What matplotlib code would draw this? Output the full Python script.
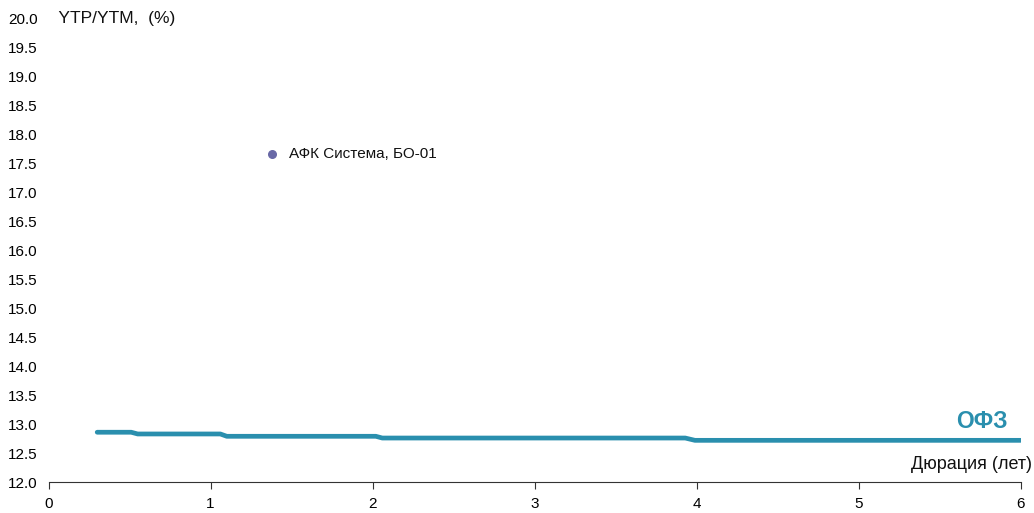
import matplotlib
matplotlib.use("Agg")
import matplotlib.pyplot as plt

plt.rcParams['font.family'] = ['Liberation Sans', 'DejaVu Sans']

# OFZ curve (duration, yield)
ofz_duration = [0.30, 0.51, 0.55, 1.06, 1.10, 2.02, 2.06, 3.93, 3.99, 6.00]
ofz_yield = [12.86, 12.86, 12.83, 12.83, 12.79, 12.79, 12.76, 12.76, 12.72, 12.72]

# Bond point
bond_names = ["АФК Система, БО-01"]
bond_duration = [1.38]
bond_yield = [17.67]

x_ticks = [0, 1, 2, 3, 4, 5, 6]
y_ticks = [12.0, 12.5, 13.0, 13.5, 14.0, 14.5, 15.0, 15.5, 16.0, 16.5, 17.0,
           17.5, 18.0, 18.5, 19.0, 19.5, 20.0]

fig = plt.figure(figsize=(10.34, 5.13), dpi=100)
ax = fig.add_axes([0.047, 0.0604, 0.940, 0.9026])

line_color = "#2A8FAE"
ax.plot(ofz_duration, ofz_yield, color=line_color, lw=3.4, solid_capstyle='round')
ax.scatter(bond_duration, bond_yield, s=30, color="#6868A6", zorder=3)
for n, x, y in zip(bond_names, bond_duration, bond_yield):
    ax.annotate(n, (x, y), xytext=(12, 0), textcoords='offset points',
                va='center', ha='left', fontsize=11, color='#111111')

ax.text(5.92, 12.84, "ОФЗ", color=line_color, fontsize=16.5, fontweight='bold',
        ha='right', va='bottom')

ax.set_xlim(0, 6)
ax.set_ylim(12.0, 20.0)
ax.set_xticks(x_ticks)
ax.set_xticklabels([str(t) for t in x_ticks])
ax.set_yticks(y_ticks)
ax.set_yticklabels([f"{t:.1f}" for t in y_ticks])
for s in ['top', 'right', 'left']:
    ax.spines[s].set_visible(False)
ax.spines['bottom'].set_color('#333333')
ax.tick_params(axis='y', length=0, labelsize=11, pad=8)
ax.tick_params(axis='x', direction='out', length=5, labelsize=11, color='#333333', pad=6)

ax.text(6.07, 12.15, "Дюрация (лет)", ha='right', va='bottom', fontsize=13, color='#111111',
        clip_on=False)
ax.text(0.0, 20.0, "  YTP/YTM,  (%)", ha='left', va='center', fontsize=12.5,
        color='#111111', transform=ax.transData, clip_on=False)

fig.savefig("out.png", dpi=100)
